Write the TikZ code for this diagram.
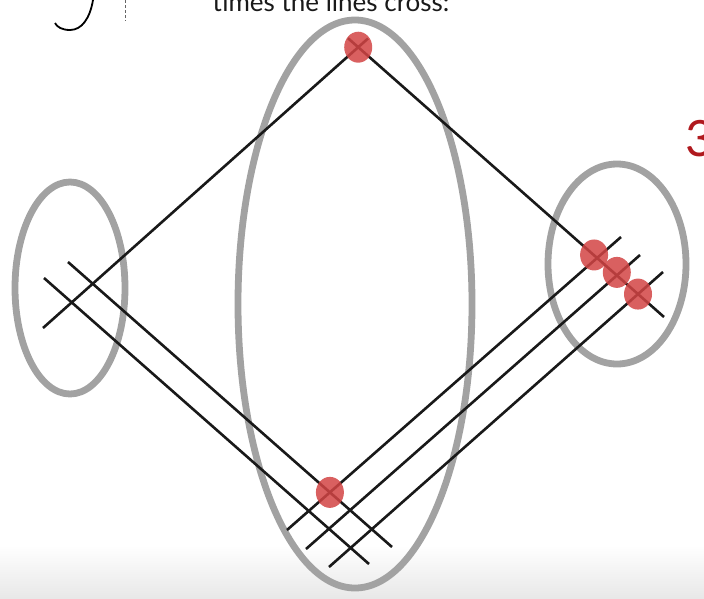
\documentclass[tikz,border=0pt]{standalone}
\usepackage{fontspec}
\setmainfont{Lato}
\usetikzlibrary{positioning,calc,shapes.geometric}
\definecolor{ringgray}{HTML}{A2A2A2}
\definecolor{dotred}{HTML}{D24444}
\definecolor{numred}{HTML}{B0191E}

\begin{document}
\begin{tikzpicture}[
  x=1pt, y=-1pt,
  ring/.style={draw=ringgray, line width=6.8pt},
  strand/.style={draw=black!90, line width=2.6pt},
  crossdot/.style={ellipse, fill=dotred, fill opacity=0.85, inner sep=0pt,
                   minimum width=28pt, minimum height=31pt},
]
\useasboundingbox (0,0) rectangle (704,598);
\clip (0,0) rectangle (704,598);

% ---- slide background ----
\shade[top color=white, bottom color=black!9] (0,545) rectangle (704,598);

% ---- cut-off slide text ----
\node[font=\fontsize{26}{30}\selectfont, anchor=base, text=black!90]
  (caption) at (331,11) {times the lines cross:};
\node[font=\fontsize{50}{56}\selectfont, anchor=base west, text=numred,
      inner sep=0pt] (count) at (685,156) {3};

% fragment of the hand drawing at top left
\draw[black, line width=1.8pt] (93,0) .. controls (90,18) and (82,30) .. (70,30)
  .. controls (62,30) and (57,27) .. (55,23);
\draw[black!60, line width=1pt, dash pattern=on 3pt off 2pt] (125,0) -- (125,21);

% ---- strand end points ----
\coordinate (aLow)  at (43,328);
\coordinate (aHigh) at (368,38.5);
\coordinate (bHigh) at (348,38.2);
\coordinate (bLow)  at (664,317);
\coordinate (l1Top) at (68,262);
\coordinate (l1Bot) at (392,547);
\coordinate (l2Top) at (44,278);
\coordinate (l2Bot) at (369,564);
\coordinate (c1Bot) at (287,530);
\coordinate (c1Top) at (621,237);
\coordinate (c2Bot) at (306,549);
\coordinate (c2Top) at (640,255);
\coordinate (c3Bot) at (329,567);
\coordinate (c3Top) at (663,272);

% ---- grouping rings ----
\draw[ring] (70,288) ellipse [x radius=55, y radius=106];
\draw[ring] (355,304) ellipse [x radius=117, y radius=284];
\draw[ring] (617,264) ellipse [x radius=69, y radius=100];

% ---- strands ----
\draw[strand] (aLow) -- (aHigh);
\draw[strand] (bHigh) -- (bLow);
\draw[strand] (l1Top) -- (l1Bot);
\draw[strand] (l2Top) -- (l2Bot);
\draw[strand] (c1Bot) -- (c1Top);
\draw[strand] (c2Bot) -- (c2Top);
\draw[strand] (c3Bot) -- (c3Top);

% ---- counted crossings ----
\node[crossdot] (topX)    at (intersection of aLow--aHigh and bHigh--bLow) {};
\node[crossdot] (rightX1) at ($(intersection of bHigh--bLow and c1Bot--c1Top)+(-3,-3)$) {};
\node[crossdot] (rightX2) at ($(intersection of bHigh--bLow and c2Bot--c2Top)+(0,-3)$) {};
\node[crossdot] (rightX3) at (intersection of bHigh--bLow and c3Bot--c3Top) {};
\node[crossdot] (bottomX) at (intersection of l1Top--l1Bot and c1Bot--c1Top) {};

\end{tikzpicture}
\end{document}
